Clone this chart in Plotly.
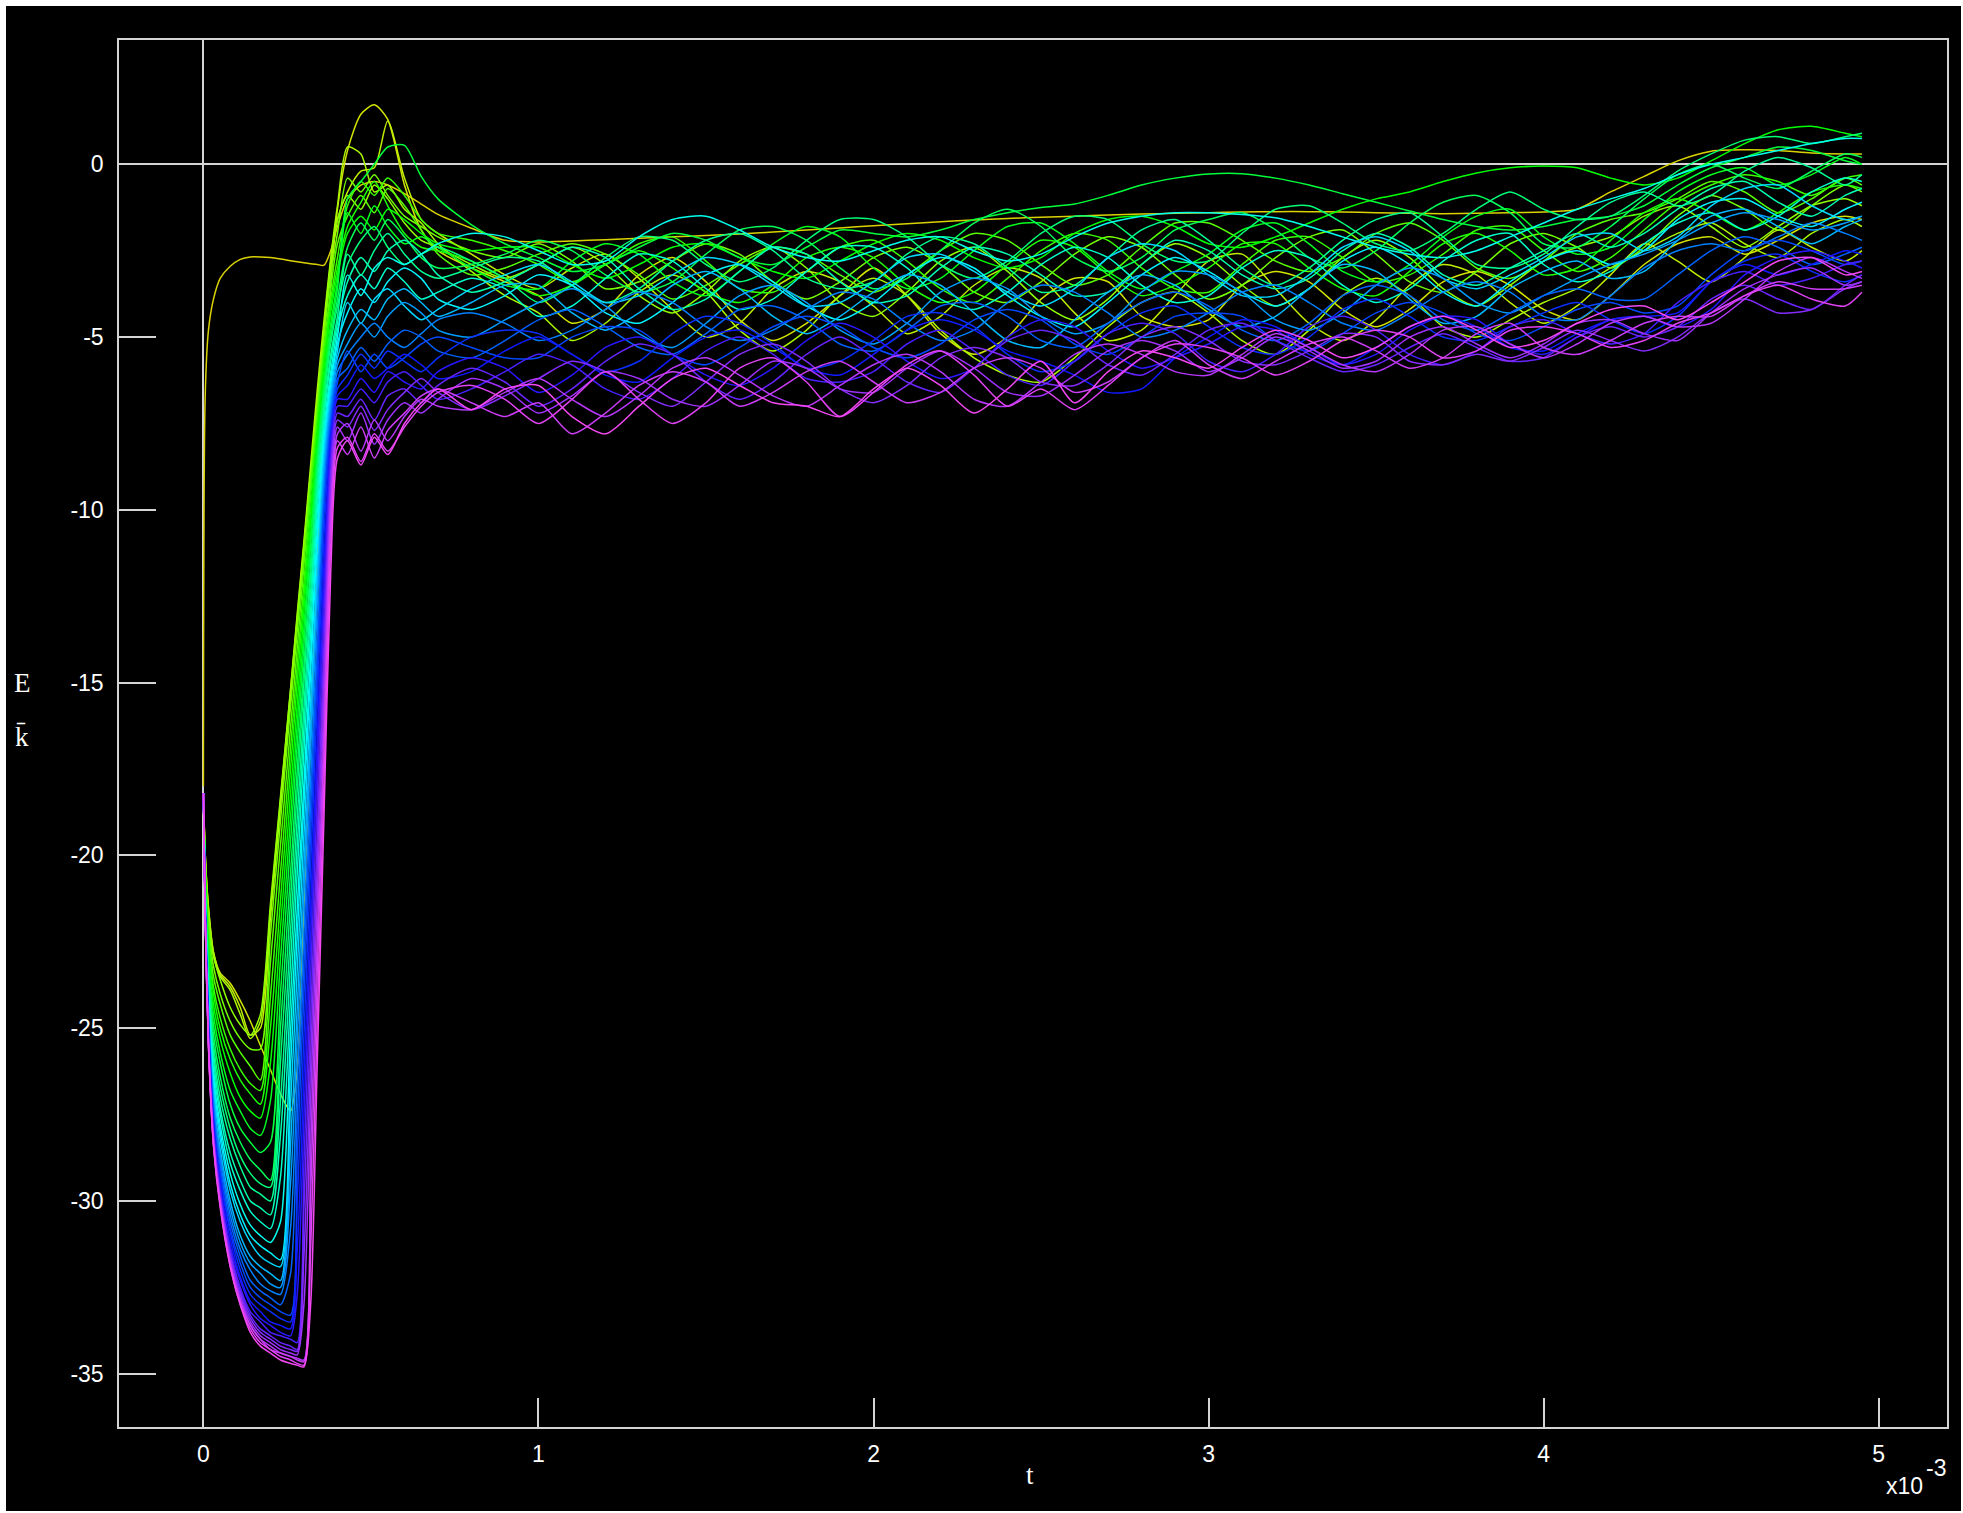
import colorsys
import plotly.graph_objects as go

# Time axis in units of 1e-3 s (dense near the start where the curves dive and recover)
t_ms = [0, 0.005, 0.015, 0.03, 0.05, 0.08, 0.11, 0.14, 0.17, 0.20, 0.23, 0.26, 0.28, 0.30, 0.32,
        0.34, 0.36, 0.38, 0.40,
        0.43, 0.47, 0.51, 0.55, 0.60, 0.65, 0.70, 0.80, 0.90,
        1.0, 1.1, 1.2, 1.3, 1.4, 1.5, 1.6, 1.7, 1.8, 1.9,
        2.0, 2.1, 2.2, 2.3, 2.4, 2.5, 2.6, 2.7, 2.8, 2.9,
        3.0, 3.1, 3.2, 3.3, 3.4, 3.5, 3.6, 3.7, 3.8, 3.9,
        4.0, 4.1, 4.2, 4.3, 4.4, 4.5, 4.6, 4.7, 4.8, 4.9, 4.95]

# Energy traces E_k(t), one list per run
E00 = [-18.0, -6.8, -4.8, -3.9, -3.3, -2.95, -2.75, -2.68, -2.68, -2.7, -2.74, -2.79, -2.82, -2.85, -2.88, -2.9, -2.92, -2.5, -1.8,
       -1.0, -0.6, -0.5, -0.6, -0.85, -1.15, -1.45, -1.85, -2.2,
       -2.25, -2.22, -2.18, -2.14, -2.1, -2.06, -2.02, -1.96, -1.9, -1.84,
       -1.78, -1.72, -1.66, -1.61, -1.57, -1.53, -1.5, -1.47, -1.44, -1.42,
       -1.4, -1.38, -1.37, -1.37, -1.38, -1.4, -1.42, -1.43, -1.42, -1.4,
       -1.38, -1.3, -0.8, -0.35, 0.1, 0.38, 0.42, 0.4, 0.33, 0.3, 0.3]
E01 = [-18.2, -19.9, -21.5, -22.8, -23.4, -23.7, -24.2, -24.8, -25.5, -26.2, -26.9, -27.4, -26.2, -21.5, -16.5, -11.5, -7.0, -3.5, -1.3,
       0.4, 1.45, 1.72, 1.3, -0.6, -1.9, -2.5, -3.0, -3.4,
       -3.8, -4.6, -4.2, -3.2, -2.7, -3.4, -4.5, -5.1, -4.6, -3.8,
       -3.0, -3.8, -4.9, -5.5, -5.0, -3.9, -3.3, -3.4, -4.4, -4.7,
       -4.5, -3.5, -3.1, -3.4, -4.2, -4.7, -4.2, -3.4, -3.1, -3.5,
       -4.2, -4.5, -3.8, -2.9, -2.3, -2.1, -2.6, -2.2, -1.7, -1.5, -1.6]
E02 = [-18.2, -19.9, -21.5, -22.8, -23.45, -23.8, -24.4, -25.2, -25.0, -21.8, -18.6, -15.4, -13.2, -11.1, -9.0, -6.8, -4.8, -3.0, -1.6,
       -0.8, -0.2, -0.1, 1.25, -0.4, -1.6, -2.0, -2.6, -3.2,
       -3.6, -3.0, -2.6, -3.3, -4.2, -5.0, -4.6, -3.6, -3.1, -3.4,
       -4.1, -4.9, -4.4, -3.5, -3.0, -3.3, -4.3, -5.1, -4.8, -3.8,
       -2.8, -2.6, -3.6, -4.6, -5.1, -4.5, -3.5, -2.9, -3.2, -4.0,
       -4.6, -4.1, -3.2, -2.3, -2.8, -3.4, -2.7, -1.9, -2.4, -2.8, -2.5]
E03 = [-18.2, -19.9, -21.6, -22.9, -23.5, -23.9, -24.6, -25.3, -24.8, -21.6, -18.4, -15.2, -13.0, -10.9, -8.7, -6.5, -4.5, -2.7, -1.2,
       0.5, 0.3, -0.8, -0.6, -1.3, -1.7, -2.3, -3.1, -3.8,
       -4.3, -5.1, -4.6, -3.7, -3.2, -3.7, -4.8, -5.4, -4.8, -3.8,
       -3.3, -3.8, -4.8, -5.6, -6.1, -6.3, -5.6, -4.7, -4.0, -3.7,
       -4.3, -5.1, -5.5, -4.8, -3.8, -3.3, -3.8, -4.7, -5.0, -4.5,
       -4.0, -3.6, -3.0, -2.5, -2.0, -1.7, -2.3, -2.7, -2.0, -1.6, -1.8]
E04 = [-18.2, -20.0, -21.7, -22.9, -23.6, -24.4, -24.9, -25.2, -24.6, -21.4, -18.3, -15.2, -13.1, -11.0, -8.9, -6.9, -4.8, -2.8, -1.6,
       -0.9, -1.3, -0.6, -1.0, -1.7, -2.2, -2.4, -2.9, -3.3,
       -2.9, -2.4, -2.9, -3.8, -4.3, -3.7, -2.8, -2.4, -3.0, -4.0,
       -4.4, -3.7, -2.8, -2.4, -3.1, -4.0, -4.5, -3.9, -2.9, -2.3,
       -2.7, -3.5, -4.1, -3.6, -2.7, -2.2, -2.7, -3.6, -4.1, -3.5,
       -2.8, -2.4, -2.1, -1.5, -1.2, -1.8, -2.4, -1.8, -1.2, -1.0, -1.2]
E05 = [-18.2, -20.1, -21.9, -23.2, -24.0, -24.8, -25.3, -25.6, -25.6, -22.3, -19.0, -15.7, -13.5, -11.3, -9.1, -7.0, -5.0, -3.2, -2.0,
       -0.4, -0.8, -0.3, -0.9, -1.5, -1.8, -2.1, -2.5, -2.7,
       -2.3, -2.8, -3.6, -3.4, -2.8, -2.3, -2.6, -3.4, -3.9, -3.4,
       -2.7, -2.4, -2.9, -3.7, -4.0, -3.4, -2.6, -2.1, -2.4, -3.2,
       -3.9, -3.5, -2.7, -2.1, -1.9, -2.6, -3.4, -3.7, -3.1, -2.3,
       -2.0, -2.4, -3.0, -2.4, -1.5, -0.9, -1.3, -1.9, -1.2, -0.6, -0.8]
E06 = [-18.2, -20.2, -22.1, -23.5, -24.3, -25.2, -25.7, -26.1, -26.5, -23.1, -19.7, -16.3, -14.0, -11.6, -9.3, -7.2, -5.3, -3.6, -2.3,
       -1.5, -0.9, -1.4, -0.7, -1.2, -1.9, -2.6, -3.2, -3.0,
       -2.6, -2.3, -2.6, -3.2, -3.9, -3.5, -2.9, -2.4, -2.6, -3.2,
       -3.7, -3.2, -2.5, -2.0, -2.2, -2.9, -3.5, -3.2, -2.4, -1.7,
       -1.7, -2.2, -2.8, -3.1, -2.7, -2.0, -1.7, -2.2, -3.0, -3.3,
       -2.8, -2.0, -1.6, -1.4, -1.0, -0.5, -0.8, -1.4, -1.0, -0.4, -0.6]
E07 = [-18.2, -20.3, -22.3, -23.8, -24.7, -25.6, -26.2, -26.6, -26.8, -24.1, -20.5, -16.9, -14.5, -12.1, -9.6, -7.4, -5.5, -3.9, -2.7,
       -1.2, -0.5, -0.9, -0.4, -0.9, -1.6, -2.0, -2.2, -2.5,
       -2.9, -3.4, -2.9, -2.3, -2.1, -2.8, -3.6, -3.7, -3.1, -2.4,
       -2.2, -2.8, -3.6, -4.0, -3.3, -2.5, -2.0, -2.2, -3.0, -3.6,
       -3.7, -2.9, -2.2, -2.1, -2.7, -3.4, -3.2, -2.6, -1.9, -1.8,
       -2.5, -3.1, -2.7, -1.9, -1.1, -0.6, -0.3, -0.5, -0.9, -0.4, -0.3]
E08 = [-18.2, -20.4, -22.5, -24.0, -25.0, -25.9, -26.5, -26.9, -27.2, -25.0, -21.3, -17.5, -15.0, -12.5, -10.0, -7.7, -5.7, -4.1, -3.0,
       -1.8, -1.1, -0.5, -1.2, -2.0, -2.4, -2.5, -2.8, -3.3,
       -3.8, -3.5, -2.9, -2.5, -3.0, -3.7, -4.0, -3.5, -2.7, -2.4,
       -2.7, -3.5, -4.0, -3.7, -2.9, -2.2, -2.4, -3.2, -3.8, -3.5,
       -3.0, -2.3, -2.3, -3.0, -3.6, -3.8, -3.1, -2.3, -2.0, -2.5,
       -3.2, -3.0, -2.2, -1.4, -1.0, -1.4, -1.9, -1.4, -0.8, -0.6, -0.7]
E09 = [-18.2, -20.5, -22.7, -24.3, -25.3, -26.3, -27.0, -27.4, -27.6, -26.0, -22.1, -18.2, -15.6, -12.9, -10.3, -7.9, -5.9, -4.3, -3.2,
       -2.0, -1.5, -1.9, -1.3, -1.6, -2.0, -2.3, -2.5, -2.4,
       -2.4, -2.9, -3.3, -2.9, -2.4, -2.3, -2.7, -3.1, -3.3, -2.8,
       -2.3, -2.0, -2.2, -2.7, -3.0, -2.7, -2.0, -1.6, -1.5, -1.8,
       -2.3, -2.4, -2.1, -1.7, -1.3, -1.0, -0.8, -0.5, -0.25, -0.1,
       -0.05, -0.1, -0.4, -0.6, -0.4, 0.1, 0.6, 1.0, 1.1, 0.9, 0.8]
E10 = [-18.2, -20.5, -22.9, -24.6, -25.7, -26.8, -27.4, -27.9, -28.1, -27.1, -23.0, -18.9, -16.2, -13.4, -10.7, -8.2, -6.2, -4.6, -3.4,
       -1.4, -2.0, -1.2, -1.8, -2.3, -2.1, -2.4, -3.0, -3.5,
       -3.6, -2.8, -2.3, -2.6, -3.4, -3.8, -3.1, -2.3, -1.8, -2.1,
       -3.0, -3.6, -3.3, -2.5, -1.8, -1.7, -2.3, -3.1, -3.6, -3.1,
       -2.6, -1.9, -1.7, -2.3, -3.1, -3.4, -2.9, -2.1, -1.5, -1.3,
       -2.1, -2.6, -2.4, -1.6, -0.8, -0.3, -0.1, -0.6, -0.3, 0.2, 0.0]
E11 = [-18.2, -20.6, -23.1, -24.9, -26.0, -27.2, -27.9, -28.3, -28.6, -28.3, -24.0, -19.6, -16.8, -13.9, -11.0, -8.4, -6.4, -4.8, -3.6,
       -1.0, -0.5, 0.0, 0.5, 0.55, -0.35, -1.0, -1.75, -2.3,
       -2.7, -3.1, -2.9, -2.4, -2.0, -2.2, -2.7, -2.9, -2.4, -1.9,
       -2.0, -2.1, -1.9, -1.6, -1.4, -1.25, -1.15, -0.9, -0.6, -0.4,
       -0.28, -0.27, -0.4, -0.6, -0.85, -1.1, -1.35, -1.6, -1.8, -1.9,
       -1.8, -1.6, -1.5, -1.2, -0.6, -0.1, 0.2, 0.5, 0.4, 0.1, 0.0]
E12 = [-18.2, -20.7, -23.3, -25.2, -26.4, -27.6, -28.3, -28.8, -29.1, -29.4, -25.0, -20.5, -17.5, -14.5, -11.5, -8.7, -6.6, -5.0, -3.9,
       -2.4, -1.7, -2.2, -1.6, -2.1, -2.7, -3.0, -2.9, -2.6,
       -2.2, -2.5, -3.2, -3.7, -3.4, -2.6, -1.9, -1.8, -2.2, -3.0,
       -3.6, -3.3, -2.5, -1.7, -1.3, -1.8, -2.7, -3.1, -2.7, -1.9,
       -1.6, -1.4, -1.9, -2.7, -3.0, -2.5, -1.7, -1.1, -0.9, -1.4,
       -2.3, -2.4, -1.8, -1.0, -0.3, 0.0, -0.4, -0.7, -0.2, 0.3, 0.2]
E13 = [-18.2, -20.8, -23.5, -25.5, -26.7, -27.9, -28.7, -29.2, -29.5, -29.6, -26.0, -21.3, -18.1, -15.0, -11.9, -8.9, -6.8, -5.2, -4.1,
       -2.9, -2.2, -1.8, -2.4, -2.9, -2.6, -2.4, -2.8, -3.3,
       -4.0, -3.5, -2.7, -2.1, -2.2, -2.9, -3.4, -3.0, -2.2, -1.6,
       -1.6, -2.1, -2.9, -3.3, -2.8, -2.0, -1.5, -1.6, -2.3, -2.8,
       -2.8, -2.0, -1.3, -1.2, -1.7, -2.3, -2.5, -2.0, -1.3, -0.8,
       -1.3, -1.6, -1.5, -0.9, -0.2, 0.3, 0.7, 0.8, 0.6, 0.8, 0.9]
E14 = [-18.2, -20.9, -23.6, -25.7, -27.0, -28.2, -29.0, -29.6, -29.8, -30.0, -27.1, -22.2, -18.9, -15.7, -12.4, -9.3, -7.1, -5.5, -4.4,
       -2.6, -3.2, -2.5, -2.0, -2.6, -3.1, -3.3, -3.0, -2.7,
       -2.8, -3.5, -4.0, -3.6, -2.8, -2.2, -2.0, -2.5, -3.3, -3.6,
       -3.4, -2.6, -2.1, -2.3, -3.0, -3.7, -3.5, -2.7, -1.9, -1.6,
       -2.2, -3.0, -3.5, -3.0, -2.2, -1.6, -1.4, -2.1, -2.9, -3.0,
       -2.6, -1.8, -1.1, -0.8, -1.2, -0.9, -0.2, 0.2, -0.1, -0.6, -0.3]
E15 = [-18.2, -20.9, -23.8, -25.9, -27.3, -28.6, -29.4, -30.0, -30.2, -30.4, -28.1, -23.1, -19.7, -16.3, -12.9, -9.6, -7.3, -5.7, -4.6,
       -3.4, -2.7, -3.1, -2.5, -2.2, -2.6, -3.2, -3.7, -3.4,
       -2.9, -2.4, -2.7, -3.6, -4.2, -3.9, -3.1, -2.4, -2.6, -3.4,
       -4.0, -3.8, -3.0, -2.4, -2.6, -3.2, -3.8, -3.7, -2.9, -2.2,
       -2.5, -3.2, -3.6, -3.3, -2.5, -2.0, -2.4, -3.2, -3.5, -3.0,
       -2.5, -2.0, -2.4, -2.0, -1.3, -0.7, -0.5, -1.1, -1.5, -0.9, -0.7]
E16 = [-18.2, -21.0, -24.0, -26.2, -27.5, -28.9, -29.7, -30.3, -30.6, -30.8, -29.3, -24.1, -20.5, -17.0, -13.5, -10.0, -7.6, -6.0, -4.8,
       -3.8, -3.2, -3.6, -3.0, -3.4, -3.9, -3.7, -3.3, -3.6,
       -4.4, -4.1, -3.3, -2.6, -2.8, -3.6, -4.2, -3.9, -3.1, -2.4,
       -2.4, -3.0, -3.9, -4.2, -3.7, -2.9, -2.4, -2.7, -3.5, -4.0,
       -3.8, -3.0, -2.5, -2.7, -3.5, -4.0, -3.6, -2.8, -2.2, -2.0,
       -2.9, -3.4, -3.1, -2.3, -1.7, -1.4, -1.9, -1.5, -0.8, -0.4, -0.5]
E17 = [-18.2, -21.1, -24.1, -26.4, -27.8, -29.2, -30.1, -30.7, -31.0, -31.2, -30.6, -25.1, -21.5, -17.9, -14.2, -10.5, -7.9, -6.2, -5.0,
       -3.2, -3.8, -3.0, -2.7, -2.9, -2.6, -2.3, -2.0, -2.1,
       -2.5, -2.9, -2.8, -2.1, -1.6, -1.5, -1.9, -2.4, -2.7, -2.8,
       -2.5, -2.2, -2.1, -2.5, -2.8, -2.6, -2.1, -1.7, -1.5, -1.4,
       -1.4, -1.45, -1.55, -1.8, -2.1, -2.4, -2.6, -2.7, -2.5, -2.1,
       -1.7, -1.3, -1.0, -0.7, -0.3, 0.0, 0.2, 0.4, 0.6, 0.75, 0.75]
E18 = [-18.2, -21.1, -24.3, -26.6, -28.0, -29.5, -30.4, -31.0, -31.3, -31.5, -31.7, -26.1, -22.3, -18.5, -14.7, -10.9, -8.1, -6.4, -5.2,
       -4.3, -3.6, -4.0, -3.4, -3.0, -3.3, -3.9, -4.2, -3.8,
       -3.2, -3.5, -4.3, -4.6, -4.0, -3.2, -2.9, -3.4, -4.1, -4.5,
       -4.0, -3.2, -2.7, -3.0, -3.8, -4.4, -4.7, -4.0, -3.2, -2.7,
       -3.1, -3.7, -4.1, -3.6, -2.8, -2.4, -2.9, -3.7, -4.1, -3.4,
       -2.8, -2.5, -2.9, -2.5, -1.6, -1.1, -1.0, -1.5, -1.8, -1.3, -1.1]
E19 = [-18.2, -21.2, -24.4, -26.8, -28.2, -29.7, -30.6, -31.2, -31.6, -31.8, -31.9, -27.2, -23.3, -19.4, -15.5, -11.6, -8.4, -6.6, -5.4,
       -4.0, -4.6, -3.9, -3.6, -4.1, -4.5, -4.2, -3.6, -3.2,
       -2.9, -3.4, -4.0, -3.8, -3.2, -2.7, -2.9, -3.5, -4.1, -4.0,
       -3.4, -2.7, -2.6, -3.1, -3.7, -4.1, -3.6, -2.7, -2.3, -2.5,
       -3.2, -3.8, -3.8, -3.2, -2.4, -2.1, -2.5, -3.3, -3.6, -3.2,
       -2.7, -2.1, -2.0, -2.5, -2.1, -1.2, -0.7, -0.6, -1.2, -1.6, -1.5]
E20 = [-18.2, -21.3, -24.5, -27.0, -28.5, -30.0, -31.0, -31.6, -31.9, -32.1, -32.3, -28.4, -24.4, -20.3, -16.3, -12.2, -8.7, -6.8, -5.6,
       -4.8, -4.2, -4.5, -3.9, -3.6, -4.0, -4.4, -4.0, -3.5,
       -3.5, -4.3, -4.8, -4.3, -3.5, -3.1, -3.6, -4.4, -4.9, -4.4,
       -3.7, -3.2, -3.5, -4.3, -5.1, -5.3, -4.5, -3.7, -3.2, -3.5,
       -4.2, -4.7, -4.4, -3.6, -2.9, -3.1, -3.9, -4.6, -4.4, -3.6,
       -3.1, -2.8, -3.3, -3.1, -2.2, -1.5, -1.3, -1.8, -2.3, -1.8, -1.6]
E21 = [-18.2, -21.3, -24.6, -27.1, -28.7, -30.2, -31.2, -31.8, -32.1, -32.4, -32.5, -29.5, -25.3, -21.1, -16.9, -12.7, -9.0, -7.0, -5.8,
       -5.2, -4.6, -5.0, -4.4, -4.0, -4.3, -4.8, -5.0, -4.5,
       -4.0, -3.6, -4.1, -4.9, -5.3, -4.6, -3.8, -3.5, -4.0, -4.8,
       -5.2, -4.6, -3.7, -3.3, -3.6, -4.4, -4.9, -4.6, -3.7, -3.1,
       -3.2, -3.7, -4.5, -4.8, -4.3, -3.5, -3.0, -3.3, -4.0, -4.3,
       -3.8, -3.3, -2.9, -2.6, -2.2, -1.7, -1.4, -1.6, -1.9, -1.7, -1.5]
E22 = [-18.2, -21.3, -24.7, -27.3, -28.8, -30.4, -31.4, -32.0, -32.4, -32.6, -32.7, -30.8, -26.5, -22.2, -17.8, -13.5, -9.4, -7.2, -6.0,
       -5.5, -5.0, -4.6, -5.0, -5.3, -4.9, -4.5, -4.3, -4.6,
       -5.1, -4.8, -4.2, -3.7, -4.0, -4.7, -5.1, -4.8, -4.2, -3.7,
       -3.9, -4.6, -5.1, -4.8, -4.0, -3.5, -3.7, -4.3, -5.0, -4.8,
       -4.3, -3.7, -3.5, -4.0, -4.6, -4.8, -4.3, -3.7, -3.4, -3.7,
       -4.4, -4.5, -3.8, -3.0, -2.5, -2.3, -2.5, -2.1, -1.7, -2.0, -2.2]
E23 = [-18.2, -21.4, -24.8, -27.4, -29.0, -30.6, -31.6, -32.3, -32.6, -32.8, -33.0, -32.1, -27.6, -23.1, -18.6, -14.2, -9.8, -7.4, -6.2,
       -5.9, -5.3, -5.7, -5.2, -4.8, -5.0, -5.4, -5.6, -5.1,
       -4.5, -4.2, -4.7, -5.3, -5.5, -4.9, -4.2, -4.1, -4.5, -5.2,
       -5.4, -4.8, -4.1, -4.0, -4.4, -5.1, -5.3, -4.6, -4.0, -3.7,
       -4.1, -4.8, -5.1, -4.6, -3.8, -3.5, -3.8, -4.5, -4.8, -4.3,
       -3.8, -3.6, -3.9, -3.9, -3.2, -2.5, -2.1, -2.4, -2.9, -2.6, -2.4]
E24 = [-18.2, -21.4, -24.9, -27.6, -29.2, -30.8, -31.8, -32.5, -32.8, -33.0, -33.2, -33.3, -28.7, -24.0, -19.4, -14.7, -10.0, -7.6, -6.3,
       -5.4, -6.0, -5.5, -5.9, -5.6, -5.2, -5.0, -5.3, -5.6,
       -5.6, -5.0, -4.7, -4.8, -5.5, -5.8, -5.3, -4.7, -4.4, -4.7,
       -5.3, -5.6, -5.2, -4.5, -4.2, -4.5, -5.2, -5.5, -5.0, -4.4,
       -4.3, -4.4, -5.1, -5.4, -4.9, -4.3, -4.0, -4.3, -4.9, -5.1,
       -4.7, -4.2, -4.0, -4.3, -4.1, -3.2, -2.5, -2.2, -2.5, -2.9, -2.8]
E25 = [-18.2, -21.5, -25.0, -27.7, -29.3, -30.9, -32.0, -32.7, -33.0, -33.2, -33.4, -33.5, -30.0, -25.2, -20.3, -15.5, -10.7, -7.8, -6.5,
       -6.1, -5.5, -5.9, -5.4, -5.7, -6.0, -5.6, -5.0, -4.8,
       -4.9, -5.5, -6.0, -5.7, -4.9, -4.4, -4.6, -5.2, -5.9, -5.7,
       -5.1, -4.4, -4.3, -4.7, -5.5, -6.0, -5.7, -4.9, -4.3, -4.1,
       -4.7, -5.3, -5.5, -5.0, -4.2, -3.9, -4.4, -5.0, -5.1, -4.7,
       -4.3, -4.0, -4.5, -4.9, -4.4, -3.4, -2.8, -2.6, -3.1, -3.4, -3.2]
E26 = [-18.2, -21.5, -25.1, -27.8, -29.5, -31.1, -32.2, -32.9, -33.2, -33.5, -33.6, -33.7, -31.4, -26.4, -21.4, -16.5, -11.5, -8.0, -6.7,
       -6.4, -5.8, -6.2, -5.9, -5.5, -5.8, -6.2, -6.0, -5.4,
       -5.0, -5.5, -6.1, -6.3, -5.6, -5.0, -4.8, -5.3, -5.9, -6.1,
       -5.5, -4.8, -4.5, -4.8, -5.4, -5.7, -6.1, -6.6, -6.5, -5.6,
       -5.0, -4.5, -4.7, -5.3, -5.8, -5.3, -4.7, -4.4, -4.7, -5.3,
       -5.4, -4.9, -4.5, -4.4, -4.3, -3.4, -2.9, -3.2, -2.9, -2.5, -2.6]
E27 = [-18.2, -21.5, -25.2, -27.9, -29.6, -31.3, -32.3, -33.0, -33.4, -33.6, -33.8, -33.9, -32.7, -27.6, -22.4, -17.2, -12.1, -8.2, -6.8,
       -6.8, -6.2, -6.6, -6.0, -6.3, -6.5, -6.0, -5.6, -5.9,
       -6.6, -6.1, -5.3, -5.0, -5.5, -6.1, -6.4, -5.9, -5.1, -4.6,
       -5.0, -5.7, -6.2, -5.9, -5.0, -4.5, -4.7, -5.4, -5.9, -5.6,
       -5.2, -4.7, -4.8, -5.5, -5.8, -5.5, -4.8, -4.4, -4.5, -5.2,
       -5.5, -5.0, -4.5, -4.4, -4.7, -4.2, -3.2, -2.7, -2.5, -2.8, -3.0]
E28 = [-18.2, -21.6, -25.2, -28.0, -29.7, -31.4, -32.5, -33.2, -33.5, -33.8, -33.9, -34.0, -34.1, -28.9, -23.5, -18.2, -12.9, -8.5, -7.0,
       -7.0, -6.5, -6.9, -6.3, -6.0, -6.4, -6.8, -6.5, -6.0,
       -5.5, -5.8, -6.5, -6.8, -6.2, -5.4, -5.0, -5.5, -6.2, -6.3,
       -6.0, -5.2, -4.8, -5.4, -6.1, -6.4, -5.7, -4.9, -4.6, -4.9,
       -5.7, -6.0, -5.5, -4.7, -4.4, -4.8, -5.5, -5.8, -5.4, -4.7,
       -4.5, -4.9, -5.2, -4.9, -4.0, -3.4, -3.1, -3.5, -3.3, -2.9, -2.8]
E29 = [-18.2, -21.6, -25.3, -28.1, -29.8, -31.5, -32.6, -33.3, -33.7, -33.9, -34.1, -34.2, -34.3, -30.2, -24.7, -19.3, -13.8, -8.9, -7.2,
       -7.3, -6.8, -7.4, -6.7, -6.5, -6.9, -6.4, -5.9, -6.3,
       -7.0, -6.5, -5.7, -5.2, -5.5, -6.3, -6.8, -6.3, -5.5, -5.0,
       -5.6, -6.3, -6.6, -5.9, -5.1, -4.8, -5.1, -5.8, -6.1, -5.5,
       -4.8, -4.6, -5.1, -5.6, -6.0, -5.8, -5.3, -4.9, -5.3, -5.7,
       -5.6, -5.0, -4.7, -5.0, -4.7, -3.9, -3.5, -3.9, -4.2, -3.5, -3.2]
E30 = [-18.2, -21.6, -25.4, -28.2, -29.9, -31.6, -32.7, -33.4, -33.8, -34.0, -34.2, -34.3, -34.35, -31.6, -25.9, -20.2, -14.5, -9.2, -7.4,
       -7.6, -7.0, -7.7, -7.1, -6.6, -6.2, -6.6, -7.1, -6.7,
       -6.2, -5.7, -6.0, -6.6, -7.0, -6.3, -5.5, -5.2, -5.7, -6.5,
       -6.9, -6.4, -5.6, -5.3, -5.6, -6.3, -6.4, -5.8, -5.0, -4.7,
       -5.1, -5.7, -5.8, -5.4, -4.9, -5.0, -5.7, -5.8, -5.5, -5.7,
       -5.3, -4.8, -5.1, -5.4, -5.0, -4.3, -3.9, -4.3, -4.2, -3.6, -3.4]
E31 = [-18.2, -21.6, -25.4, -28.2, -30.0, -31.7, -32.8, -33.5, -33.9, -34.1, -34.3, -34.4, -34.45, -33.0, -27.1, -21.2, -15.3, -9.6, -7.6,
       -8.0, -7.2, -8.1, -7.4, -6.9, -7.2, -6.8, -6.2, -6.5,
       -7.2, -6.7, -6.0, -6.2, -6.8, -7.0, -6.4, -5.7, -5.9, -6.5,
       -6.6, -5.9, -5.4, -5.9, -6.6, -6.7, -6.1, -5.4, -5.1, -5.4,
       -6.0, -5.6, -5.0, -5.4, -5.9, -5.7, -5.0, -4.7, -5.2, -5.6,
       -5.2, -4.6, -4.5, -4.9, -5.1, -4.3, -3.6, -3.2, -3.0, -3.5, -3.4]
E32 = [-18.2, -21.6, -25.4, -28.3, -30.0, -31.8, -32.9, -33.6, -34.0, -34.2, -34.4, -34.5, -34.55, -34.6, -28.5, -22.3, -16.2, -10.0, -7.8,
       -7.5, -8.3, -7.4, -8.0, -7.3, -6.8, -7.0, -7.1, -6.6,
       -6.2, -6.8, -7.3, -6.7, -5.9, -5.6, -6.1, -6.7, -7.0, -6.4,
       -5.8, -5.5, -6.0, -6.8, -7.0, -6.3, -5.5, -5.2, -5.5, -6.0,
       -6.1, -5.5, -4.9, -5.3, -5.8, -6.0, -5.5, -4.8, -4.7, -5.2,
       -5.6, -5.2, -4.6, -4.4, -4.7, -4.6, -3.9, -3.1, -2.7, -3.1, -3.3]
E33 = [-18.2, -21.7, -25.5, -28.3, -30.1, -31.8, -32.9, -33.6, -34.0, -34.3, -34.4, -34.5, -34.6, -34.65, -29.8, -23.3, -16.8, -10.3, -8.0,
       -8.4, -7.6, -8.5, -7.7, -7.2, -6.7, -6.5, -6.9, -7.3,
       -6.9, -7.8, -7.2, -6.4, -6.0, -6.3, -7.0, -6.6, -6.0, -5.7,
       -6.3, -6.9, -6.6, -5.9, -5.6, -5.9, -6.6, -6.3, -5.6, -5.1,
       -5.8, -6.2, -5.7, -5.2, -5.0, -5.4, -5.9, -5.6, -4.9, -4.6,
       -5.3, -5.5, -5.1, -4.6, -4.4, -4.4, -3.8, -3.4, -3.6, -3.6, -3.5]
E34 = [-18.2, -21.7, -25.5, -28.4, -30.1, -31.9, -33.0, -33.7, -34.1, -34.3, -34.5, -34.6, -34.7, -34.75, -31.4, -24.6, -17.8, -11.0, -8.2,
       -7.9, -8.6, -7.8, -8.3, -7.6, -7.0, -6.6, -6.4, -6.8,
       -7.5, -6.8, -6.0, -6.8, -7.5, -6.9, -5.9, -5.6, -6.3, -7.3,
       -6.6, -5.8, -5.4, -6.1, -7.0, -6.5, -7.1, -6.4, -5.6, -5.2,
       -5.3, -5.6, -6.1, -5.7, -5.1, -4.8, -5.0, -5.6, -5.4, -4.8,
       -4.7, -4.9, -5.3, -5.1, -4.6, -4.3, -3.8, -3.5, -3.9, -4.1, -3.7]
E35 = [-18.2, -21.7, -25.5, -28.4, -30.2, -31.9, -33.0, -33.8, -34.2, -34.4, -34.6, -34.7, -34.75, -34.8, -33.0, -25.9, -18.8, -11.8, -8.5,
       -8.0, -8.7, -7.9, -8.4, -7.5, -6.9, -6.5, -7.1, -6.5,
       -6.4, -7.3, -7.8, -7.0, -6.2, -5.9, -6.4, -6.9, -7.0, -7.3,
       -6.5, -5.9, -6.4, -7.2, -6.5, -5.7, -6.9, -6.0, -5.4, -5.6,
       -5.9, -5.3, -4.8, -5.1, -5.6, -5.3, -4.7, -4.4, -4.8, -5.3,
       -5.1, -4.6, -4.2, -4.1, -4.5, -4.0, -3.4, -2.8, -2.7, -3.2, -3.1]

runs = [E00, E01, E02, E03, E04, E05, E06, E07, E08, E09, E10, E11,
        E12, E13, E14, E15, E16, E17, E18, E19, E20, E21, E22, E23,
        E24, E25, E26, E27, E28, E29, E30, E31, E32, E33, E34, E35]

y_ticks = [0, -5, -10, -15, -20, -25, -30, -35]
x_ticks = [0, 1, 2, 3, 4, 5]

for k, r in enumerate(runs):
    assert len(r) == len(t_ms), (k, len(r), len(t_ms))


def run_color(k, n):
    # rainbow from yellow through green, cyan and blue to magenta
    h = 58 + 242 * k / (n - 1)
    s = 1.0 if h <= 220 else 1.0 - (h - 220) / 80 * 0.3
    if h < 84:
        v = 0.86 + 0.14 * (h - 58) / 26
    elif h > 260:
        v = 1.0 - (h - 260) / 40 * 0.05
    else:
        v = 1.0
    r, g, b = colorsys.hsv_to_rgb(h / 360.0, s, v)
    return f"rgb({int(r * 255)},{int(g * 255)},{int(b * 255)})"


fig = go.Figure()
for k, r in enumerate(runs):
    fig.add_trace(go.Scatter(
        x=t_ms, y=r, mode="lines",
        line=dict(color=run_color(k, len(runs)), width=1.5, shape="spline", smoothing=0.7),
        hoverinfo="skip", showlegend=False,
    ))

W, H = 1963, 1513
L, R, T, B = 119, 16, 40, 86
pw, ph = W - L - R, H - T - B
axis_col = "#d4d4d4"


def px(x):
    return (x - L) / pw


def py(y):
    return (H - B - y) / ph


# black canvas inside a thin white border
fig.add_shape(type="rect", xref="paper", yref="paper",
              x0=px(6), x1=px(W - 2), y0=py(H - 2), y1=py(6),
              fillcolor="black", line=dict(width=0), layer="below")

tick_font = dict(family="Liberation Sans", size=23, color="white")
fig.update_layout(
    width=W, height=H,
    margin=dict(l=L, r=R, t=T, b=B),
    paper_bgcolor="white", plot_bgcolor="black",
    showlegend=False,
    xaxis=dict(range=[-0.252, 5.204], showgrid=False,
               zeroline=True, zerolinecolor=axis_col, zerolinewidth=1.5,
               showline=True, linecolor=axis_col, linewidth=1.5, mirror=True,
               ticks="inside", ticklen=29, tickwidth=1.5, tickcolor=axis_col,
               tickvals=x_ticks, ticktext=[str(v) for v in x_ticks],
               ticklabelstandoff=6, tickfont=tick_font),
    yaxis=dict(range=[-36.54, 3.597], showgrid=False,
               zeroline=True, zerolinecolor=axis_col, zerolinewidth=1.5,
               showline=True, linecolor=axis_col, linewidth=1.5, mirror=True,
               ticks="inside", ticklen=37, tickwidth=1.5, tickcolor=axis_col,
               tickvals=y_ticks, ticktext=[str(v) for v in y_ticks],
               ticklabelstandoff=9, tickfont=tick_font),
)

label_font = dict(family="Liberation Serif", size=27, color="white")
fig.add_annotation(text="t", xref="paper", yref="paper", x=px(1030), y=py(1475),
                   xanchor="center", yanchor="middle", showarrow=False, font=label_font)
# axis multiplier: "x10" with a raised "-3"
fig.add_annotation(text="x10", xref="paper", yref="paper", x=px(1925), y=py(1486),
                   xanchor="right", yanchor="middle", showarrow=False, font=tick_font)
fig.add_annotation(text="-3", xref="paper", yref="paper", x=px(1924), y=py(1468),
                   xanchor="left", yanchor="middle", showarrow=False, font=tick_font)
fig.add_annotation(text="E", xref="paper", yref="paper", x=px(22), y=py(683),
                   xanchor="center", yanchor="middle", showarrow=False, font=label_font)
fig.add_annotation(text="k\u0304", xref="paper", yref="paper", x=px(22), y=py(737),
                   xanchor="center", yanchor="middle", showarrow=False, font=label_font)

fig.write_html("out.html")
